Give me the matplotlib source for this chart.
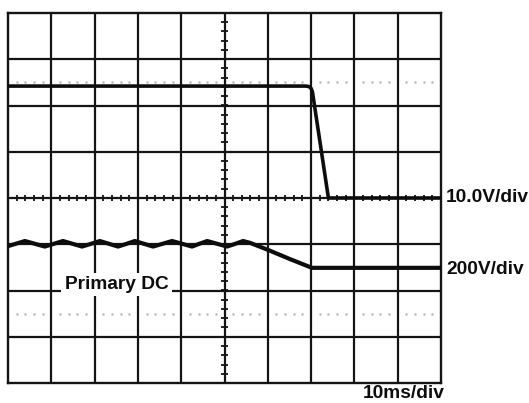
import numpy as np
import matplotlib.pyplot as plt

plt.rcParams['font.family'] = ['Liberation Sans', 'DejaVu Sans']

# trace 1 (10.0V/div), in divisions
ch1_x = [0, 6.88, 6.95, 7.0, 7.03, 7.40, 10]
ch1_y = [2.42, 2.42, 2.41, 2.37, 2.30, 0.0, 0.0]

# trace 2 (200V/div), in divisions
ch2_x = [0, 0.18, 0.39, 0.62, 0.85, 1.06, 1.27, 1.49, 1.71, 1.92, 2.12,
         2.33, 2.54, 2.74, 2.93, 3.14, 3.35, 3.57, 3.79, 4.02, 4.25, 4.42,
         4.60, 4.83, 5.06, 5.25, 5.43, 5.59, 6.0, 6.51, 7.02, 10]
ch2_y = [-1.04, -0.99, -0.93, -0.99, -1.05, -0.99, -0.93, -0.99, -1.05,
         -0.99, -0.93, -0.99, -1.05, -0.99, -0.93, -0.99, -1.05, -0.99,
         -0.93, -0.99, -1.05, -0.99, -0.93, -0.99, -1.05, -0.99, -0.93,
         -0.97, -1.12, -1.32, -1.51, -1.51]

labels_right = ['10.0V/div', '200V/div']
label_time = '10ms/div'
label_trace = 'Primary DC'

W, H = 529, 403
fig = plt.figure(figsize=(W / 100, H / 100), dpi=100)
ax = fig.add_axes([8 / W, 20 / H, 433 / W, 370 / H])
ax.set_xlim(0, 10)
ax.set_ylim(-4, 4)
ax.set_xticks([])
ax.set_yticks([])

grid_c = '#141414'
for s in ax.spines.values():
    s.set_linewidth(1.7)
    s.set_color(grid_c)
for k in range(1, 10):
    ax.axvline(k, color=grid_c, lw=1.6, zorder=1)
for k in range(-3, 4):
    ax.axhline(k, color=grid_c, lw=1.6, zorder=1)

# minor ticks on centre lines
minor = np.arange(0, 10.01, 0.2)
ax.vlines(minor, -0.075, 0.075, color=grid_c, lw=1.3, zorder=1)
minor_y = np.arange(-4, 4.01, 0.2)
ax.hlines(minor_y, 4.91, 5.09, color=grid_c, lw=1.3, zorder=1)

# dotted reference lines
dots = np.concatenate([k + np.array([0.2, 0.4, 0.6, 0.8]) for k in range(10)])
for yy in (2.5, -2.5):
    ax.plot(dots, np.full(len(dots), yy), ls='none', marker='s', ms=1.6,
            mfc='#aaaaaa', mec='none', zorder=1)

ax.plot(ch1_x, ch1_y, color='#0d0d0d', lw=2.6, solid_joinstyle='round', zorder=3)
ax.plot(ch2_x, ch2_y, color='#0d0d0d', lw=3.0, solid_joinstyle='round', zorder=3)

ax.text(2.51, -1.87, label_trace, ha='center', va='center', fontsize=13.8,
        fontweight='bold', color='#0d0d0d', zorder=4,
        bbox=dict(fc='white', ec='none', pad=2.5))

fig.text(446 / W, 1 - 198 / H, labels_right[0], ha='left', va='center',
         fontsize=13.8, fontweight='bold', color='#0d0d0d')
fig.text(446 / W, 1 - 269 / H, labels_right[1], ha='left', va='center',
         fontsize=13.8, fontweight='bold', color='#0d0d0d')
fig.text(363 / W, 1 - 394 / H, label_time, ha='left', va='center',
         fontsize=13.8, fontweight='bold', color='#0d0d0d')

fig.savefig('out.png', dpi=100)
